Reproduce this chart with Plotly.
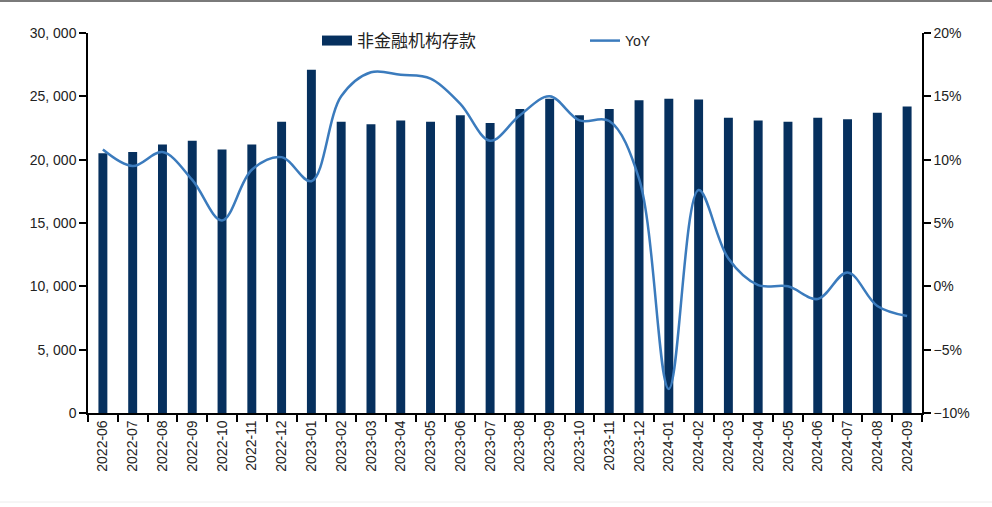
import plotly.graph_objects as go

months = ["2022-06", "2022-07", "2022-08", "2022-09", "2022-10", "2022-11", "2022-12",
          "2023-01", "2023-02", "2023-03", "2023-04", "2023-05", "2023-06", "2023-07",
          "2023-08", "2023-09", "2023-10", "2023-11", "2023-12", "2024-01", "2024-02",
          "2024-03", "2024-04", "2024-05", "2024-06", "2024-07", "2024-08", "2024-09"]
deposits = [20500, 20600, 21200, 21500, 20800, 21200, 23000,
            27100, 23000, 22800, 23100, 23000, 23500, 22900,
            24000, 24800, 23500, 24000, 24700, 24800, 24750,
            23300, 23100, 23000, 23300, 23200, 23700, 24200]
yoy = [10.8, 9.5, 10.6, 8.4, 5.2, 9.2, 10.2,
       8.3, 15.0, 16.9, 16.7, 16.4, 14.4, 11.5,
       13.5, 15.0, 13.1, 13.05, 8.5, -8.1, 7.6,
       2.2, 0.1, 0.0, -1.0, 1.1, -1.55, -2.35]
left_tickvals = [0, 5000, 10000, 15000, 20000, 25000, 30000]
left_ticktext = ["0", "5, 000", "10, 000", "15, 000", "20, 000", "25, 000", "30, 000"]
right_tickvals = [-10, -5, 0, 5, 10, 15, 20]
right_ticktext = ["\u221210%", "\u22125%", "0%", "5%", "10%", "15%", "20%"]

bar_name = "非金融机构存款"
line_name = "YoY"
bar_color = "#06305e"
line_color = "#3b7bbd"

fig = go.Figure()
fig.add_trace(go.Bar(x=months, y=deposits, name=bar_name, marker_color=bar_color,
                     marker_line_width=0, showlegend=False, legendgroup="bar"))
# legend-only entry for the bars (wide swatch)
fig.add_trace(go.Scatter(x=[None], y=[None], mode="lines", name=bar_name,
                         line=dict(color=bar_color, width=10), legend="legend",
                         legendgroup="bar"))
fig.add_trace(go.Scatter(x=months, y=yoy, name=line_name, mode="lines", yaxis="y2",
                         line=dict(color=line_color, width=2.5, shape="spline", smoothing=1.0),
                         legend="legend2"))

W, H = 992, 507
L, R, T, B = 88, 70, 33, 94
pw, ph = W - L - R, H - T - B

def px_x(x):
    return (x - L) / pw

def px_y(y):
    return (H - B - y) / ph

tick_font = dict(family="Liberation Sans, Arial, sans-serif", size=14, color="#222222")

fig.update_layout(
    width=W, height=H,
    margin=dict(l=L, r=R, t=T, b=B, autoexpand=False),
    paper_bgcolor="white", plot_bgcolor="white",
    bargap=0.7,
    xaxis=dict(type="category", showgrid=False, showline=True, linecolor="black", linewidth=1.5,
               ticks="outside", ticklen=7, tickcolor="black", tickwidth=1.5, tickson="boundaries",
               tickangle=-90, tickfont=tick_font, range=[-0.5, 27.5]),
    yaxis=dict(range=[0, 30000], tickvals=left_tickvals, ticktext=left_ticktext,
               showgrid=False, zeroline=False, showline=True, linecolor="black", linewidth=1.5,
               ticks="outside", ticklen=7, tickcolor="black", tickwidth=1.5, tickfont=tick_font),
    yaxis2=dict(range=[-10, 20], tickvals=right_tickvals, ticktext=right_ticktext, overlaying="y",
                side="right", showgrid=False, zeroline=False, showline=True, linecolor="black",
                linewidth=1.5, ticks="outside", ticklen=7, tickcolor="black", tickwidth=1.5,
                tickfont=tick_font),
    legend=dict(x=px_x(317), y=px_y(41), xanchor="left", yanchor="middle",
                bgcolor="rgba(0,0,0,0)",
                font=dict(family="Noto Sans CJK SC", size=17, color="#222222")),
    legend2=dict(x=px_x(585), y=px_y(41), xanchor="left", yanchor="middle",
                 bgcolor="rgba(0,0,0,0)",
                 font=dict(family="Liberation Sans, Arial, sans-serif", size=14, color="#222222")),
    shapes=[
        dict(type="line", xref="paper", yref="paper", x0=px_x(0), x1=px_x(W), y0=px_y(1), y1=px_y(1),
             line=dict(color="#7a7a7a", width=2)),
        dict(type="line", xref="paper", yref="paper", x0=px_x(0), x1=px_x(W), y0=px_y(502), y1=px_y(502),
             line=dict(color="#ececec", width=1)),
    ],
)

fig.write_html("out.html", config={"displayModeBar": False},
               post_script="document.body.style.margin='0px';document.body.style.overflow='hidden';")
